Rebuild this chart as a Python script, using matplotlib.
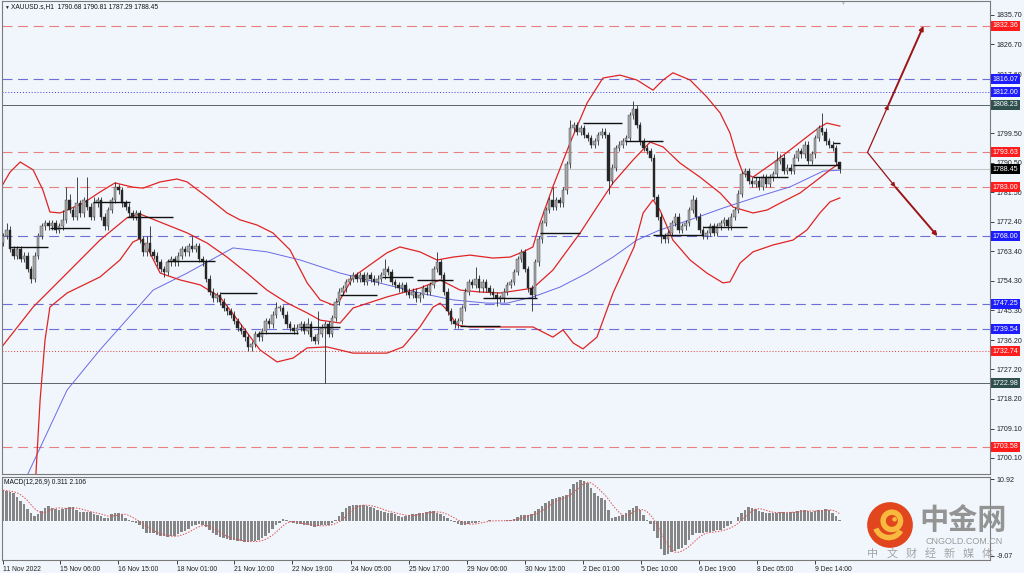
import numpy as np
import pandas as pd
import matplotlib
matplotlib.use("Agg")
import matplotlib.pyplot as plt
from matplotlib import patches

plt.rcParams['font.family'] = ['Liberation Sans', 'DejaVu Sans']

# --- DATA: XAUUSD.s, one candle per two H1 bars ---
first_open = 1766.0
closes = [
    1768, 1770, 1764, 1762, 1764, 1761, 1762, 1758, 1755, 1762,
    1768, 1771, 1772, 1771, 1772, 1770, 1771, 1773, 1779, 1776,
    1774, 1778, 1775, 1779, 1777, 1774, 1778, 1779, 1774, 1771,
    1776, 1779, 1783, 1782, 1778, 1777, 1775, 1774, 1775, 1767,
    1763, 1766, 1763, 1762, 1760, 1758, 1757, 1760, 1761, 1760,
    1762, 1764, 1763, 1765, 1764, 1765, 1761, 1760, 1755, 1751,
    1749, 1750, 1748, 1746, 1745, 1744, 1742, 1740, 1739, 1737,
    1734, 1735, 1738, 1737, 1739, 1742, 1741, 1744, 1746, 1746,
    1744, 1741, 1740, 1739, 1740, 1741, 1739, 1741, 1737, 1736,
    1738, 1740, 1741, 1738, 1743, 1748, 1751, 1752, 1754, 1755,
    1756, 1755, 1756, 1754, 1756, 1755, 1754, 1755, 1756, 1758,
    1757, 1754, 1753, 1752, 1753, 1751, 1750, 1751, 1749, 1750,
    1752, 1751, 1753, 1758, 1760, 1756, 1751, 1745, 1742, 1741,
    1742, 1746, 1751, 1754, 1753, 1755, 1752, 1754, 1752, 1751,
    1750, 1749, 1749, 1751, 1753, 1754, 1757, 1761, 1763, 1758,
    1752, 1750, 1760, 1767, 1772, 1776, 1779, 1777, 1779, 1778,
    1782, 1790, 1801, 1802, 1800, 1801, 1799, 1798, 1796, 1797,
    1799, 1800, 1799, 1785, 1789, 1795, 1796, 1797, 1798, 1805,
    1807, 1802, 1797, 1795, 1794, 1792, 1780, 1774, 1768, 1767,
    1769, 1772, 1774, 1770, 1771, 1772, 1776, 1779, 1774, 1770,
    1768, 1769, 1771, 1769, 1771, 1772, 1773, 1771, 1774, 1776,
    1781, 1787, 1788, 1785, 1784, 1785, 1783, 1786, 1784, 1786,
    1787, 1791, 1792, 1788, 1789, 1788, 1792, 1794, 1793, 1796,
    1791, 1793, 1798, 1801, 1800, 1797, 1796, 1795, 1790.68, 1788.45,
]
upper_wick = [
    1, 2, 1, 1, 1, 1, 1, 1, 1, 1,
    1, 1, 1, 1, 1, 1, 1, 3, 4, 2,
    1, 8, 1, 1, 7, 1, 2, 1, 1, 1,
    1, 1, 1.5, 1, 1, 1, 1, 1, 1, 1,
    1, 2, 5, 1, 1, 1, 1, 1, 1, 1,
    1, 1, 1, 1, 3, 1, 1, 1, 1, 1,
    1, 1, 1, 1, 1, 1, 1, 1, 1, 1,
    1, 1, 1, 1, 1, 1, 1, 1, 2, 1,
    1, 1, 1, 1, 1, 1, 1, 2, 1, 1,
    7, 1, 1, 1, 1, 1, 1, 1, 1, 1,
    1, 1, 1, 1, 1, 1, 1, 1, 1, 3,
    1, 1, 1, 1, 1, 1, 1, 1, 1, 1,
    1, 1, 1, 1, 3, 1, 1, 1, 1, 1,
    1, 1, 1, 1, 1, 3.5, 1, 1, 1, 1,
    1, 1, 1, 1, 1, 1, 1, 1, 1, 1,
    1, 1, 1, 1, 1, 1, 1, 4, 1, 1,
    1, 1, 2.5, 1, 1, 1, 1, 1, 1, 1,
    1, 1, 1, 1, 1, 1, 1, 1, 1, 1,
    2.5, 1, 1, 1, 1, 1, 1, 1, 1, 1,
    1, 1, 1, 1, 1, 1, 1, 1.5, 1, 1,
    1, 1, 1, 1, 1, 1, 1, 1, 1, 1,
    1, 1, 1, 1, 1, 1, 1, 1, 1, 1,
    1, 3, 1, 1, 1, 1, 1, 1, 1, 1,
    1, 1, 1, 1, 4.7, 1, 1, 1, 1, 0.13,
]
lower_wick = [
    1, 1, 1, 1, 1, 1, 1, 1, 1.3, 1,
    1, 1, 1, 1, 1, 1, 1, 1, 1, 1,
    1, 1, 1, 1, 1, 1, 1, 1, 1, 1,
    1, 1, 1, 1, 1, 1, 1, 1, 1, 1,
    1, 1, 1, 1, 1, 1, 1.5, 1, 1, 1,
    1, 1, 1, 1, 1, 1, 1, 1, 1, 1,
    1, 1, 1, 1, 1, 1, 1, 1, 1, 1,
    1, 1, 1, 1, 1, 1, 1, 1, 1, 1,
    1, 1, 1, 1, 1, 1, 1, 1, 1, 1,
    1, 1, 17, 1, 1, 1, 1, 1, 1, 1,
    1, 1, 1, 1, 1, 1, 1, 1, 1, 1,
    1, 1, 1, 1, 1, 1, 1, 1, 1, 1,
    1, 1, 1, 1, 1, 1, 1, 1, 1, 1,
    1, 1, 1, 1, 1, 1, 1, 1, 1, 1,
    1, 2.5, 1, 1, 1, 1, 1, 1, 1, 1,
    1, 5, 1, 1, 1, 1, 1, 1, 1, 1,
    1, 1, 1, 1, 1, 1, 1, 1, 1, 1,
    1, 1, 1, 4, 1, 1, 1, 1, 1, 1,
    1, 1, 1, 1, 1, 1, 1, 1, 2, 1,
    1, 1, 1, 1, 1, 1, 1, 1, 1, 1,
    1, 1, 1, 1, 1, 1, 1, 1, 1, 1,
    1, 1, 1, 1, 1, 1, 1, 1, 1, 1,
    1, 1, 1, 1, 1, 1, 1, 1, 1, 1,
    1, 1, 1, 1, 1, 1, 1, 1, 1, 1.16,
]
macd_main = [
    8.0, 7.8, 7.5, 7.2, 6.3, 5.3, 4.5, 3.2, 2.0, 1.2,
    1.8, 2.6, 3.5, 3.9, 3.5, 3.2, 3.0, 3.2, 3.5, 3.6,
    3.6, 3.0, 2.4, 2.3, 2.3, 2.3, 1.9, 1.5, 1.2, 0.9,
    0.9, 1.8, 2.2, 2.1, 1.8, 0.9, 0.3, -0.2, -0.5, -1.0,
    -2.0, -3.0, -3.1, -3.1, -3.6, -3.9, -4.0, -4.1, -4.0, -3.8,
    -3.4, -2.9, -2.5, -2.0, -1.2, -0.9, -0.8, -1.1, -1.6, -2.4,
    -3.1, -3.6, -4.1, -4.4, -4.7, -4.8, -5.0, -5.1, -5.3, -5.4,
    -5.5, -5.3, -5.1, -4.9, -4.5, -3.9, -3.0, -2.0, -1.1, -0.4,
    0.5, 0.2, -0.3, -0.6, -0.8, -0.8, -0.9, -1.1, -1.4, -1.5,
    -1.2, -1.0, -1.0, -0.9, -0.6, 0.2, 1.2, 2.4, 3.3, 3.9,
    4.2, 4.2, 4.2, 4.1, 3.9, 3.7, 3.3, 2.9, 2.5, 2.3,
    2.1, 2.1, 1.9, 1.3, 1.1, 1.3, 1.6, 1.8, 1.9, 2.0,
    2.2, 2.4, 2.5, 2.6, 2.2, 1.8, 1.3, 0.8, 0.3, -0.3,
    -0.8, -1.0, -0.9, -0.8, -0.6, -0.4, -0.2, 0.0, 0.1, 0.2,
    0.1, 0.0, 0.0, 0.1, 0.2, 0.3, 0.6, 1.0, 1.5, 1.6,
    1.7, 1.8, 2.5, 3.2, 3.9, 4.6, 5.2, 5.7, 6.0, 6.2,
    6.4, 6.8, 8.2, 9.5, 10.2, 10.6, 10.4, 9.8, 8.5, 7.3,
    6.6, 6.0, 5.4, 3.0, 0.9, 1.0, 1.2, 1.6, 2.2, 2.8,
    3.5, 3.8, 2.9, 1.6, 0.3, -0.8, -2.5, -4.5, -7.2, -8.7,
    -8.6, -8.1, -7.8, -7.3, -7.0, -6.2, -4.8, -3.6, -3.1, -3.1,
    -3.0, -2.9, -2.8, -2.6, -2.4, -2.3, -1.8, -1.3, -0.8, -0.1,
    1.0, 2.0, 3.0, 3.6, 3.5, 3.2, 2.7, 2.4, 2.2, 2.1,
    2.1, 2.2, 2.3, 2.3, 2.2, 2.3, 2.4, 2.6, 2.8, 2.8,
    2.5, 2.4, 2.6, 2.9, 3.0, 3.1, 2.9, 2.2, 1.2, 0.3,
]

# Bollinger bands and slow MA (bar index, price)
bb_up_x = [-1, 2, 4.9, 8.6, 11.4, 13.4, 16.3, 22.9, 27.7, 32, 37.1, 40, 44.9, 49.7, 52.6,
           58.3, 64, 67.7, 72.6, 77.1, 82, 86.9, 90.6, 94.3, 96.3, 100, 109.7, 113.4, 119.1,
           124, 128.6, 133.4, 140, 144.9, 148.6, 151.4, 153.4, 157.1, 162, 166.9, 171.4,
           176.3, 181.1, 185.7, 188.6, 191.4, 196.3, 201.1, 204.9, 207.7, 209.7, 211.4,
           214.3, 220, 224.9, 229.7, 233.4, 235.4, 239.1]
bb_up_y = [1782.1, 1787.6, 1790.7, 1788.3, 1782.1, 1775.4, 1775.1, 1778.1, 1781.5, 1784.3,
           1783.0, 1782.7, 1784.6, 1785.5, 1784.6, 1780.0, 1775.1, 1773.0, 1771.4, 1769.0,
           1763.8, 1753.7, 1748.5, 1746.9, 1748.5, 1755.5, 1762.9, 1764.7, 1763.2, 1760.7,
           1761.6, 1762.2, 1761.3, 1761.6, 1763.2, 1764.7, 1772.0, 1783.1, 1796.5, 1808.8,
           1816.4, 1817.3, 1815.8, 1812.7, 1815.8, 1818.0, 1815.8, 1810.6, 1805.7, 1799.6,
           1792.2, 1787.3, 1786.1, 1790.4, 1794.4, 1798.4, 1801.4, 1802.6, 1801.7]
bb_mid_x = [-1, 8.6, 18.3, 27.7, 35.4, 39.1, 44.9, 52.6, 58.3, 64, 69.7, 75.4, 81.1, 86.9,
            90.6, 96.3, 100, 109.7, 119.1, 124.9, 130.6, 136.3, 142, 147.7, 151.4, 157.1,
            164.9, 169.7, 174.3, 180, 184.9, 188.6, 193.4, 199.1, 204.9, 208.6, 214.3,
            218.3, 222, 227.7, 232.6, 236.3, 239.1]
bb_mid_y = [1733.2, 1746.3, 1756.7, 1766.8, 1773.6, 1774.8, 1772.3, 1769.0, 1765.9, 1761.6,
            1756.7, 1751.5, 1747.6, 1744.5, 1742.3, 1741.4, 1746.0, 1749.4, 1752.1, 1754.6,
            1751.5, 1750.9, 1750.6, 1751.5, 1752.1, 1757.6, 1769.0, 1776.9, 1784.3, 1791.3,
            1796.8, 1795.3, 1790.4, 1786.1, 1781.2, 1776.9, 1775.1, 1776.0, 1778.1, 1781.2,
            1785.2, 1788.3, 1790.4]
bb_low_x = [9.4, 10.6, 12, 13.4, 18.3, 27.7, 33.4, 37.1, 39.1, 41.1, 44.9, 50.6, 56.3, 62,
            67.7, 73.4, 78.3, 82.9, 86.9, 92.6, 100, 109.7, 114.3, 119.1, 122.9, 124.9,
            126.9, 129.7, 133.4, 151.4, 157.1, 160, 162.9, 165.7, 169.7, 174.3, 180.3,
            182.9, 185.7, 187.7, 191.4, 196.3, 201.1, 205.7, 207.7, 210.6, 214.3, 220,
            225.7, 229.7, 233.4, 236.3, 239.1]
bb_low_y = [1695.2, 1717.9, 1736.2, 1746.3, 1750.6, 1755.5, 1760.7, 1766.2, 1767.2, 1764.7,
            1756.7, 1754.6, 1753.1, 1749.4, 1741.4, 1733.2, 1729.5, 1730.7, 1733.8, 1734.1,
            1732.2, 1732.2, 1734.1, 1740.2, 1746.3, 1747.5, 1745.4, 1740.8, 1740.2, 1740.2,
            1737.1, 1739.3, 1735.3, 1733.5, 1737.1, 1750.6, 1764.7, 1775.1, 1779.1, 1776.0,
            1766.8, 1760.7, 1756.7, 1753.7, 1754.0, 1759.8, 1763.2, 1765.3, 1766.8, 1769.9,
            1775.1, 1778.5, 1779.7]
ma_x = [7.1, 18.3, 27.7, 42.9, 52.6, 65.7, 75.4, 84.9, 96.3, 109.7, 119.1, 128.6, 138.3,
        144, 151.4, 159.1, 166.9, 174.3, 181.1, 187.7, 196.3, 205.7, 215.4, 224.9, 234.3,
        239.1]
ma_y = [1695.2, 1720.9, 1733.2, 1751.5, 1756.7, 1764.4, 1763.2, 1760.7, 1756.7, 1753.1,
        1750.6, 1748.5, 1747.5, 1747.5, 1749.4, 1752.4, 1756.7, 1761.6, 1766.8, 1769.9,
        1773.0, 1776.6, 1780.0, 1783.1, 1787.9, 1788.2]

# short black range segments (bar start, bar end, price)
seg_start = [2, 13.4, 25.7, 35.4, 46.9, 62, 72.9, 84.9, 96.3, 108.3, 118.3, 130.6, 137,
             153.4, 165.7, 177.7, 185.7, 200, 214.3, 225.7, 237]
seg_end = [12.9, 24.9, 36.3, 48.6, 60.6, 72.6, 84.3, 96.3, 106.9, 117.1, 128.6, 142,
           152.6, 164.9, 176.9, 188.6, 200, 212.6, 224.3, 239.1, 239]
seg_price = [1764.7, 1770.5, 1778.5, 1773.9, 1760.4, 1750.6, 1738.4, 1740.2, 1750.0,
             1755.5, 1754.6, 1740.5, 1749.1, 1769.0, 1802.6, 1797.1, 1768.4, 1770.8,
             1786.1, 1789.8, 1796.5]

level_prices = [1832.36, 1816.07, 1812.00, 1808.23, 1793.63, 1788.45, 1783.00,
                1768.00, 1747.25, 1739.54, 1732.74, 1722.98, 1703.58]
level_kinds = ['red', 'blue', 'bluedot', 'slate', 'red', 'bid', 'red',
               'blue', 'blue', 'blue', 'reddot', 'slate', 'red']

# projected paths: start, first target, second target (bar, price)
arrow_up = [(247, 1793.63), (253, 1808.23), (263, 1832.36)]
arrow_down = [(247, 1793.63), (255, 1783.00), (267, 1768.00)]

price_ticks = [1835.70, 1826.70, 1817.60, 1808.60, 1799.50, 1790.50, 1781.50, 1772.40,
               1763.40, 1754.30, 1745.30, 1736.20, 1727.20, 1718.20, 1709.10, 1700.10]
hidden_ticks = [1808.60]   # fully covered by the 1808.23 label on the terminal
time_ticks = [0, 16.3, 32.9, 49.7, 66, 82.6, 99.4, 116, 132.6, 149.1, 165.7, 182.3,
              198.9, 215.4, 232]
time_labels = ['11 Nov 2022', '15 Nov 06:00', '16 Nov 15:00', '18 Nov 01:00',
               '21 Nov 10:00', '22 Nov 19:00', '24 Nov 05:00', '25 Nov 17:00',
               '29 Nov 06:00', '30 Nov 15:00', '2 Dec 01:00', '5 Dec 10:00',
               '6 Dec 19:00', '8 Dec 05:00', '9 Dec 14:00']

BG = '#f0f6fc'
LEVEL_STYLE = {
    'red':     dict(line='#e88080', ls=(0, (9, 5)), lw=0.8, box='#ff1c1c'),
    'reddot':  dict(line='#e04040', ls=(0, (1, 2)), lw=0.7, box='#ff1c1c'),
    'blue':    dict(line='#6e6ed6', ls=(0, (9, 5)), lw=0.8, box='#1c1cff'),
    'bluedot': dict(line='#3c3ce0', ls=(0, (1, 2)), lw=0.7, box='#1c1cff'),
    'slate':   dict(line='#5a6468', ls='-', lw=0.7, box='#2f4f4f'),
    'bid':     dict(line='#c8c8c8', ls='-', lw=0.8, box='#000000'),
}

W, H = 1024, 573


def px_box(x0, y0, x1, y1):
    return [x0 / W, 1 - y1 / H, (x1 - x0) / W, (y1 - y0) / H]


fig = plt.figure(figsize=(W / 100, H / 100), dpi=100)
fig.patch.set_facecolor(BG)
ax = fig.add_axes(px_box(2, 1, 990, 474))
mx = fig.add_axes(px_box(2, 477, 990, 560), sharex=ax)
for a in (ax, mx):
    a.set_facecolor(BG)
    for s in a.spines.values():
        s.set_color('#7a7a7a')
        s.set_linewidth(0.8)

ax.set_xlim(-0.29, 282)
ax.set_ylim(1695.2, 1839.98)

# levels
for price, kind in zip(level_prices, level_kinds):
    st = LEVEL_STYLE[kind]
    ax.axhline(price, color=st['line'], ls=st['ls'], lw=st['lw'], zorder=1)
    ax.text(1.0027, price, f"{price:.2f}", transform=ax.get_yaxis_transform(),
            ha='left', va='center', fontsize=5.1, color='white', clip_on=False, zorder=6,
            bbox=dict(boxstyle='square,pad=0.22', fc=st['box'], ec='none'))

# candles
idx = np.arange(len(closes))
c = np.array(closes, dtype=float)
o = np.concatenate([[first_open], c[:-1]])
hi = np.maximum(o, c) + np.array(upper_wick)
lo = np.minimum(o, c) - np.array(lower_wick)
ax.vlines(idx, lo, hi, color='#2a2a2a', lw=0.6, zorder=3)
body = np.where(np.abs(c - o) < 0.4, 0.4, np.abs(c - o))
bottom = np.minimum(o, c)
bull = c >= o
ax.bar(idx[bull], body[bull], bottom=bottom[bull], width=0.62, color='#a8a8a8',
       edgecolor='#3a3a3a', linewidth=0.3, zorder=4)
ax.bar(idx[~bull], body[~bull], bottom=bottom[~bull], width=0.62, color='#262626',
       edgecolor='#262626', linewidth=0.3, zorder=4)

ax.hlines(seg_price, seg_start, seg_end, color='#111111', lw=1.0, zorder=5)

# indicators
ax.plot(ma_x, ma_y, color='#6a6ae6', lw=0.7, zorder=2)
for bx, by in ((bb_up_x, bb_up_y), (bb_mid_x, bb_mid_y), (bb_low_x, bb_low_y)):
    ax.plot(bx, by, color='#e02424', lw=0.9, zorder=2)

# projection arrows
for path in (arrow_up, arrow_down):
    for k, lw in ((0, 0.9), (1, 1.4)):
        ax.annotate('', xy=path[k + 1], xytext=path[k],
                    arrowprops=dict(arrowstyle='-|>', color='#9b1515', lw=lw,
                                    mutation_scale=6, shrinkA=0, shrinkB=0))

ax.yaxis.tick_right()
ax.set_yticks(price_ticks)
ax.set_yticklabels(['' if p in hidden_ticks else f"{p:.2f}" for p in price_ticks])
ax.tick_params(axis='y', length=3, width=0.6, pad=1.5, labelsize=5.1, colors='#222222')
ax.tick_params(axis='x', bottom=False, labelbottom=False)

# MACD panel
mx.bar(idx, macd_main, width=0.58, color='#858585', zorder=2)
signal = pd.Series(macd_main).rolling(5, min_periods=1).mean()
mx.plot(idx, signal, color='#e05050', ls=(0, (1.5, 1.5)), lw=0.7, zorder=3)
mx.set_ylim(-10.11, 11.44)
mx.yaxis.tick_right()
mx.set_yticks([10.92, -9.07])
mx.set_yticklabels(['10.92', '-9.07'])
mx.tick_params(axis='y', length=3, width=0.6, pad=1.5, labelsize=5.1, colors='#222222')
mx.set_xticks(time_ticks)
mx.set_xticklabels(time_labels, ha='left')
mx.tick_params(axis='x', length=3, width=0.6, pad=1, labelsize=4.9, colors='#222222')

# header texts
fig.text(4 / W, 1 - 7 / H, '\u25bc', fontsize=3.5, va='center', color='#222222')
fig.text(11 / W, 1 - 7 / H, 'XAUUSD.s,H1  1790.68 1790.81 1787.29 1788.45',
         fontsize=4.8, va='center', color='#111111')
fig.text(4 / W, 1 - 482 / H, 'MACD(12,26,9) 0.311 2.106', fontsize=4.8, va='center',
         color='#111111')
fig.text(842 / W, 1 - 3 / H, '\u25bc', fontsize=3.5, ha='center', va='center', color='#b8b8b8')

# watermark
lg = fig.add_axes(px_box(866, 501, 914, 549))
lg.set_xlim(-1.05, 1.05)
lg.set_ylim(-1.05, 1.05)
lg.set_aspect('equal')
lg.axis('off')
lg.add_patch(patches.Circle((0, 0), 1.0, fc='#e2461e', ec='none'))
lg.add_patch(patches.Wedge((0.08, 0.18), 0.5, 0, 360, width=0.24, fc='#f7b93e', ec='none'))
lg.add_patch(patches.Wedge((-0.05, 0.05), 0.72, 200, 330, width=0.24, fc='#f7b93e', ec='none'))
lg.add_patch(patches.Circle((0.2, 0.25), 0.1, fc='#f7b93e', ec='none'))

cjk = ['Noto Sans CJK SC', 'DejaVu Sans']
fig.text(963 / W, 1 - 520 / H, '中金网', fontsize=21, color='#8a8a8a', alpha=0.9,
         ha='center', va='center', family=cjk, weight='bold')
fig.text(964 / W, 1 - 541.5 / H, 'CNGOLD.COM.CN', fontsize=6.5, color='#9a9a9a',
         ha='center', va='center')
for k, ch in enumerate('中文财经新媒体'):
    fig.text((873 + 19 * k) / W, 1 - 554 / H, ch, fontsize=8, color='#a4a4a4',
             ha='center', va='center', family=cjk)

fig.savefig('out.png', dpi=100, facecolor=BG)
